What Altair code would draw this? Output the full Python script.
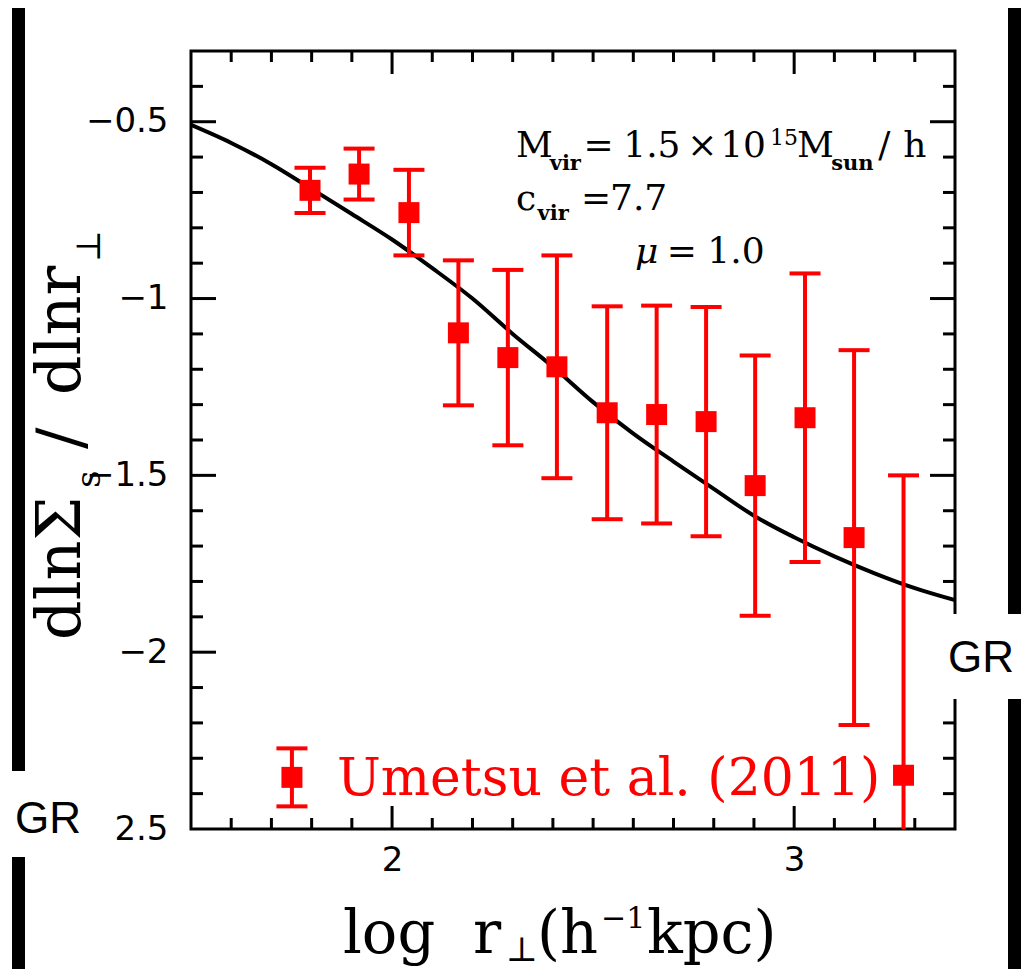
import altair as alt
import pandas as pd

# ---------------- data ----------------
x_obs = [1.796, 1.918, 2.042, 2.165, 2.288, 2.410, 2.535, 2.658, 2.781, 2.903, 3.027, 3.149, 3.272]
y_obs = [-0.694, -0.648, -0.757, -1.097, -1.167, -1.193, -1.323, -1.328, -1.348, -1.529, -1.337, -1.676, -2.348]
err_obs = [0.064, 0.072, 0.121, 0.205, 0.248, 0.315, 0.301, 0.308, 0.324, 0.368, 0.408, 0.530, 0.848]

x_model = [1.5, 1.6, 1.7, 1.8, 1.9, 2.0, 2.1, 2.2, 2.3, 2.4, 2.5, 2.6, 2.7, 2.8, 2.9, 3.0, 3.1, 3.2, 3.3, 3.4]
y_model = [-0.509, -0.560, -0.620, -0.690, -0.761, -0.833, -0.914, -1.000, -1.100, -1.193, -1.293, -1.382,
           -1.461, -1.538, -1.614, -1.675, -1.729, -1.777, -1.819, -1.853]

x_major = [2.0, 3.0]
x_minor = [1.6, 1.7, 1.8, 1.9, 2.1, 2.2, 2.3, 2.4, 2.5, 2.6, 2.7, 2.8, 2.9, 3.1, 3.2, 3.3]
y_major = [-0.5, -1.0, -1.5, -2.0]
y_minor = [-0.4, -0.6, -0.7, -0.8, -0.9, -1.1, -1.2, -1.3, -1.4, -1.6, -1.7, -1.8, -1.9, -2.1, -2.2, -2.3, -2.4]
y_label_vals = [-0.5, -1.0, -1.5, -2.0, -2.5]

legend_x = [1.751]
legend_y = [-2.354]
legend_err = [0.082]
legend_label = "Umetsu et al. (2011)"

# annotation pieces: text, x, y (data units), font size
ann_text = ["M", "=", "1.5", "×", "10", "15", "M", "/", "h", "c", "=", "7.7", "=", "1.0"]
ann_x = [2.308, 2.476, 2.575, 2.734, 2.816, 2.940, 3.007, 3.209, 3.271, 2.308, 2.470, 2.542, 2.683, 2.784]
ann_y = [-0.600, -0.600, -0.600, -0.600, -0.600, -0.566, -0.600, -0.600, -0.600, -0.750, -0.750, -0.750, -0.900, -0.900]
ann_fs = [36, 36, 36, 36, 36, 22, 36, 36, 36, 36, 36, 36, 36, 36]
sub_text = ["vir", "sun", "vir"]
sub_x = [2.392, 3.092, 2.362]
sub_y = [-0.637, -0.637, -0.778]

# axis-title pieces (pixel layout of the reference's typeset titles)
xt_text = ["log", "r", "⊥", "(h", "−1", "kpc)"]
xt_px = [152, 282, 315, 346, 410, 456]
xt_py = [902, 902, 910, 902, 877, 902]
xt_fs = [59, 59, 34, 59, 30, 59]
yt_text = ["dlnΣ", "s", "/", "dlnr", "⊥"]
yt_px = [-111, -91, -109, -111, -91]
yt_py = [589, 437, 398, 344, 211]
yt_fs = [62, 34, 64, 62, 34]

W, H = 764, 778
XMIN, XMAX = 1.5, 3.4
YMIN, YMAX = -2.5, -0.3

xs = alt.Scale(domain=[XMIN, XMAX], nice=False, zero=False)
ys = alt.Scale(domain=[YMIN, YMAX], nice=False, zero=False)

obs = pd.DataFrame({"x": x_obs, "y": y_obs, "err": err_obs})
obs["lo"] = obs["y"] - obs["err"]
obs["hi"] = obs["y"] + obs["err"]
model = pd.DataFrame({"x": x_model, "y": y_model})
leg = pd.DataFrame({"x": legend_x, "y": legend_y, "err": legend_err})
leg["lo"] = leg["y"] - leg["err"]
leg["hi"] = leg["y"] + leg["err"]

# axes: labels only; ticks drawn inward as rules, titles typeset as text marks
x_axis = alt.Axis(values=x_major, ticks=False, domain=False, grid=False, labelPadding=14,
                  labelFont="DejaVu Sans", labelFontSize=34, labelColor="black",
                  title=None, labelFlush=False)
y_axis = alt.Axis(values=y_label_vals, ticks=False, domain=False, grid=False, labelPadding=23,
                  labelFont="DejaVu Sans", labelFontSize=34, labelColor="black",
                  labelExpr="datum.value < -2.4 ? '2.5' : '−' + format(-datum.value, '')",
                  title=None, labelFlush=False)


def X(f):
    return alt.X(f, type="quantitative", scale=xs, axis=x_axis)


def Y(f):
    return alt.Y(f, type="quantitative", scale=ys, axis=y_axis)


curve = alt.Chart(model).mark_line(color="black", strokeWidth=4, interpolate="monotone", clip=True).encode(
    x=X("x"), y=Y("y"))


def vdf(vals):
    return pd.DataFrame({"v": vals})


tick_layers = []
for vals, ln in ((x_minor, 11), (x_major, 23)):
    tick_layers.append(alt.Chart(vdf(vals)).mark_rule(color="black", strokeWidth=3).encode(
        x=X("v"), y=alt.value(H), y2=alt.value(H - ln)))
    tick_layers.append(alt.Chart(vdf(vals)).mark_rule(color="black", strokeWidth=3).encode(
        x=X("v"), y=alt.value(0), y2=alt.value(ln)))
for vals, ln in ((y_minor, 12), (y_major, 25)):
    tick_layers.append(alt.Chart(vdf(vals)).mark_rule(color="black", strokeWidth=3).encode(
        y=Y("v"), x=alt.value(0), x2=alt.value(ln)))
    tick_layers.append(alt.Chart(vdf(vals)).mark_rule(color="black", strokeWidth=3).encode(
        y=Y("v"), x=alt.value(W), x2=alt.value(W - ln)))

RED = "#ff0000"


def points(df):
    bars = alt.Chart(df).mark_rule(color=RED, strokeWidth=4, clip=True).encode(
        x=X("x"), y=Y("lo"), y2="hi:Q")
    cap_hi = alt.Chart(df).mark_tick(color=RED, orient="horizontal", size=31, thickness=4,
                                     opacity=1, clip=True).encode(x=X("x"), y=Y("hi"))
    cap_lo = alt.Chart(df).mark_tick(color=RED, orient="horizontal", size=31, thickness=4,
                                     opacity=1, clip=True).encode(x=X("x"), y=Y("lo"))
    sq = alt.Chart(df).mark_square(color=RED, size=441, opacity=1, filled=True).encode(
        x=X("x"), y=Y("y"))
    return [bars, cap_hi, cap_lo, sq]


obs_layers = points(obs)
leg_layers = points(leg)

leg_text = alt.Chart(pd.DataFrame({"x": [1.863], "y": [-2.404], "t": [legend_label]})).mark_text(
    align="left", baseline="alphabetic", font="DejaVu Serif", fontSize=52, color=RED).encode(
    x=X("x"), y=Y("y"), text="t:N")

ann = pd.DataFrame({"x": ann_x, "y": ann_y, "t": ann_text, "fs": ann_fs})
ann_layer = alt.Chart(ann).mark_text(align="left", baseline="alphabetic", font="DejaVu Serif",
                                     color="black").encode(
    x=X("x"), y=Y("y"), text="t:N", size=alt.Size("fs:Q", scale=None))
sub = pd.DataFrame({"x": sub_x, "y": sub_y, "t": sub_text})
sub_layer = alt.Chart(sub).mark_text(align="left", baseline="alphabetic", font="DejaVu Serif",
                                     fontSize=21, fontWeight="bold", color="black").encode(
    x=X("x"), y=Y("y"), text="t:N")
mu_layer = alt.Chart(pd.DataFrame({"x": [2.604], "y": [-0.900], "t": ["μ"]})).mark_text(
    align="left", baseline="alphabetic", font="DejaVu Serif", fontSize=36, fontStyle="italic",
    color="black").encode(x=X("x"), y=Y("y"), text="t:N")

# axis titles
xt = pd.DataFrame({"t": xt_text, "px": xt_px, "py": xt_py, "fs": xt_fs})
xt_layer = alt.Chart(xt).mark_text(align="left", baseline="alphabetic", font="DejaVu Serif",
                                   color="black").encode(
    x=alt.X("px:Q", scale=None), y=alt.Y("py:Q", scale=None), text="t:N",
    size=alt.Size("fs:Q", scale=None))
yt = pd.DataFrame({"t": yt_text, "px": yt_px, "py": yt_py, "fs": yt_fs})
yt_layer = alt.Chart(yt).mark_text(align="left", baseline="alphabetic", font="DejaVu Serif",
                                   angle=270, color="black").encode(
    x=alt.X("px:Q", scale=None), y=alt.Y("py:Q", scale=None), text="t:N",
    size=alt.Size("fs:Q", scale=None))

# edge decorations seen in the reference (black bars and "GR" tags)
one = pd.DataFrame({"k": [0]})
deco = [
    alt.Chart(one).mark_rect(color="black").encode(
        x=alt.value(-179), x2=alt.value(-166), y=alt.value(-43), y2=alt.value(918)),
    alt.Chart(one).mark_rect(color="black").encode(
        x=alt.value(817), x2=alt.value(840), y=alt.value(-43), y2=alt.value(918)),
    alt.Chart(one).mark_rect(color="white").encode(
        x=alt.value(-183), x2=alt.value(-92), y=alt.value(720), y2=alt.value(806)),
    alt.Chart(one).mark_rect(color="white").encode(
        x=alt.value(734), x2=alt.value(840), y=alt.value(563), y2=alt.value(648)),
    alt.Chart(one).mark_text(font="Liberation Sans", fontSize=44, color="black", align="center",
                             baseline="middle").encode(
        x=alt.value(-143), y=alt.value(769), text=alt.value("GR")),
    alt.Chart(one).mark_text(font="Liberation Sans", fontSize=44, color="black", align="center",
                             baseline="middle").encode(
        x=alt.value(790), y=alt.value(608), text=alt.value("GR")),
]

chart = alt.layer(
    curve, *tick_layers, *obs_layers, *leg_layers, leg_text, ann_layer, sub_layer, mu_layer,
    xt_layer, yt_layer, *deco
).properties(
    width=W, height=H,
    background="white",
    autosize=alt.AutoSizeParams(type="none"),
    padding={"left": 183, "top": 43, "right": 66, "bottom": 140},
).configure_view(stroke="black", strokeWidth=3, fill="white")

chart.save("out.html", embed_options={"renderer": "svg", "actions": False})
